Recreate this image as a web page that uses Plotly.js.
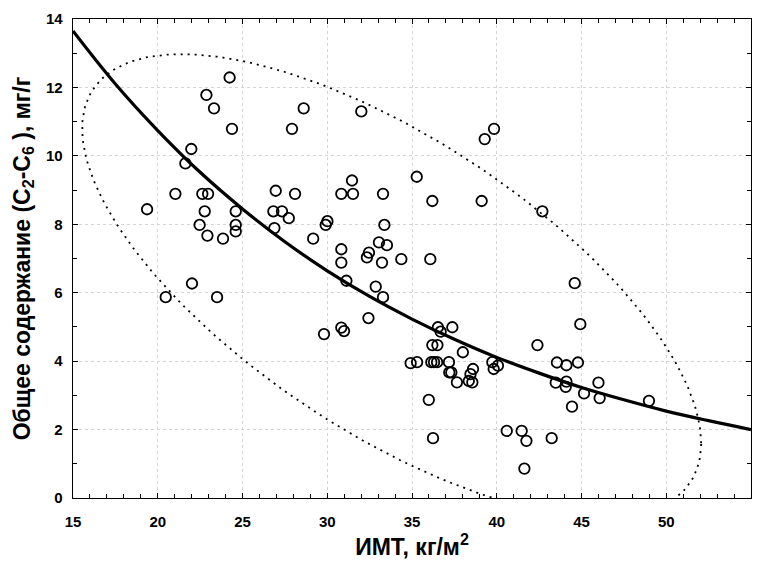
<!DOCTYPE html>
<html>
<head>
<meta charset="utf-8">
<script src="https://cdn.plot.ly/plotly-3.0.1.min.js"></script>
<style>html,body{margin:0;padding:0;background:#fff;}#chart{width:758px;height:568px;}</style>
</head>
<body>
<div id="chart"></div>
<script>
// BMI (x) values of the observations
var bmi = [19.37,20.47,21.04,21.63,21.98,22.02,22.47,22.63,22.77,22.87,22.93,22.97,23.32,23.5,23.85,24.24,24.38,24.6,24.6,24.6,
  26.82,26.88,26.96,27.33,27.73,27.92,28.1,28.61,29.17,29.81,29.91,30.01,30.83,30.83,30.83,30.83,30.99,31.13,31.46,31.52,
  32.01,32.34,32.46,32.43,32.86,33.05,33.23,33.29,33.29,33.37,33.52,34.37,34.92,35.28,35.3,35.99,36.08,36.2,36.2,36.5,
  36.14,36.3,36.48,36.24,36.53,36.69,37.18,37.2,37.32,37.38,37.65,38.0,38.35,38.45,38.56,38.6,39.11,39.29,39.74,39.82,
  39.84,40.07,40.59,41.47,41.63,41.75,42.4,42.69,43.24,43.48,43.55,44.07,44.11,44.11,44.44,44.6,44.79,44.93,45.15,46.0,
  46.07,48.98];
// Total content (C2-C6), mg/g
var content = [8.44,5.87,8.89,9.78,10.2,6.27,7.98,8.89,8.38,11.78,7.67,8.89,11.39,5.87,7.58,12.29,10.79,8.38,7.98,7.79,
  8.38,7.89,8.98,8.38,8.18,10.79,8.89,11.39,7.58,4.79,7.98,8.09,8.89,7.27,6.88,4.98,4.88,6.35,9.28,8.89,
  11.3,7.03,7.17,5.26,6.18,7.47,6.88,8.89,5.87,7.98,7.39,6.98,3.94,9.39,3.97,2.87,6.98,8.68,4.47,4.47,
  3.97,3.97,3.97,1.75,4.99,4.86,3.97,3.67,3.67,4.99,3.38,4.26,3.42,3.62,3.38,3.77,8.68,10.49,3.97,3.77,
  10.79,3.87,1.96,1.96,0.86,1.67,4.47,8.38,1.75,3.37,3.96,3.25,3.4,3.88,2.67,6.28,3.96,5.08,3.06,3.37,
  2.92,2.84];
// Fitted regression curve
var fitX = [15,17.5,20,22.5,25,27.5,30,32.5,35,37.5,40,42.5,45,47.5,50,52.5,55];
var fitY = [13.65,12.10,10.74,9.52,8.45,7.49,6.64,5.89,5.23,4.64,4.11,3.65,3.23,2.87,2.54,2.26,2.00];
// Confidence ellipse parameters (centre and conjugate half-axes)
var ellCx = 33.8, ellCy = 6.2, ellAx = 18.26, ellBy1 = -4.6, ellBy2 = 4.97;
// Axis ticks
var xTicks = [15,20,25,30,35,40,45,50,55];
var yTicks = [0,2,4,6,8,10,12,14];

var ex = [], ey = [];
for (var i = 0; i <= 240; i++) {
  var t = 2 * Math.PI * i / 240;
  ex.push(ellCx + ellAx * Math.cos(t));
  ey.push(ellCy + ellBy1 * Math.cos(t) + ellBy2 * Math.sin(t));
}

var tickFont = {family: '"Liberation Sans Narrow", "Arial Narrow", "Liberation Sans", Arial, sans-serif', size: 15, color: '#000', weight: 'bold'};
var titleFont = {family: '"Liberation Sans", Arial, sans-serif', size: 23, color: '#000', weight: 'bold'};

var traces = [
  {x: ex, y: ey, mode: 'lines', type: 'scatter', line: {color: '#000', width: 1.8, dash: '2px,5px'}, hoverinfo: 'skip'},
  {x: fitX, y: fitY, mode: 'lines', type: 'scatter', line: {color: '#000', width: 3.2, shape: 'spline'}},
  {x: bmi, y: content, mode: 'markers', type: 'scatter', cliponaxis: true,
   marker: {symbol: 'circle-open', size: 10.5, color: '#000', line: {width: 1.8, color: '#000'}}}
];

var axisCommon = {
  showline: true, linecolor: '#000', linewidth: 1.3, mirror: 'allticks',
  ticks: 'inside', ticklen: 5, tickwidth: 1, tickcolor: '#000',
  showgrid: true, gridcolor: '#d4d4d4', gridwidth: 1, griddash: 'dot',
  zeroline: false, tickfont: tickFont, automargin: false,
  minor: {dtick: 1, ticks: 'inside', ticklen: 4, tickwidth: 1, tickcolor: '#000', showgrid: false}
};

var layout = {
  width: 758, height: 568,
  margin: {l: 73, r: 7, t: 19, b: 70},
  paper_bgcolor: '#fff', plot_bgcolor: '#fff',
  showlegend: false,
  xaxis: Object.assign({}, axisCommon, {
    range: [15, 55], tickvals: xTicks, ticktext: xTicks.map(String), ticklabelstandoff: 10,
    title: {text: 'ИМТ, кг/м<sup>2</sup>', font: titleFont, standoff: 9}
  }),
  yaxis: Object.assign({}, axisCommon, {
    range: [0, 14], tickvals: yTicks, ticktext: yTicks.map(String), ticklabelstandoff: 6,
    title: {text: 'Общее содержание (C<sub>2</sub>-C<sub>6</sub> ), мг/г', font: titleFont, standoff: 9}
  })
};

Plotly.newPlot('chart', traces, layout, {staticPlot: true, displayModeBar: false});
</script>
</body>
</html>
